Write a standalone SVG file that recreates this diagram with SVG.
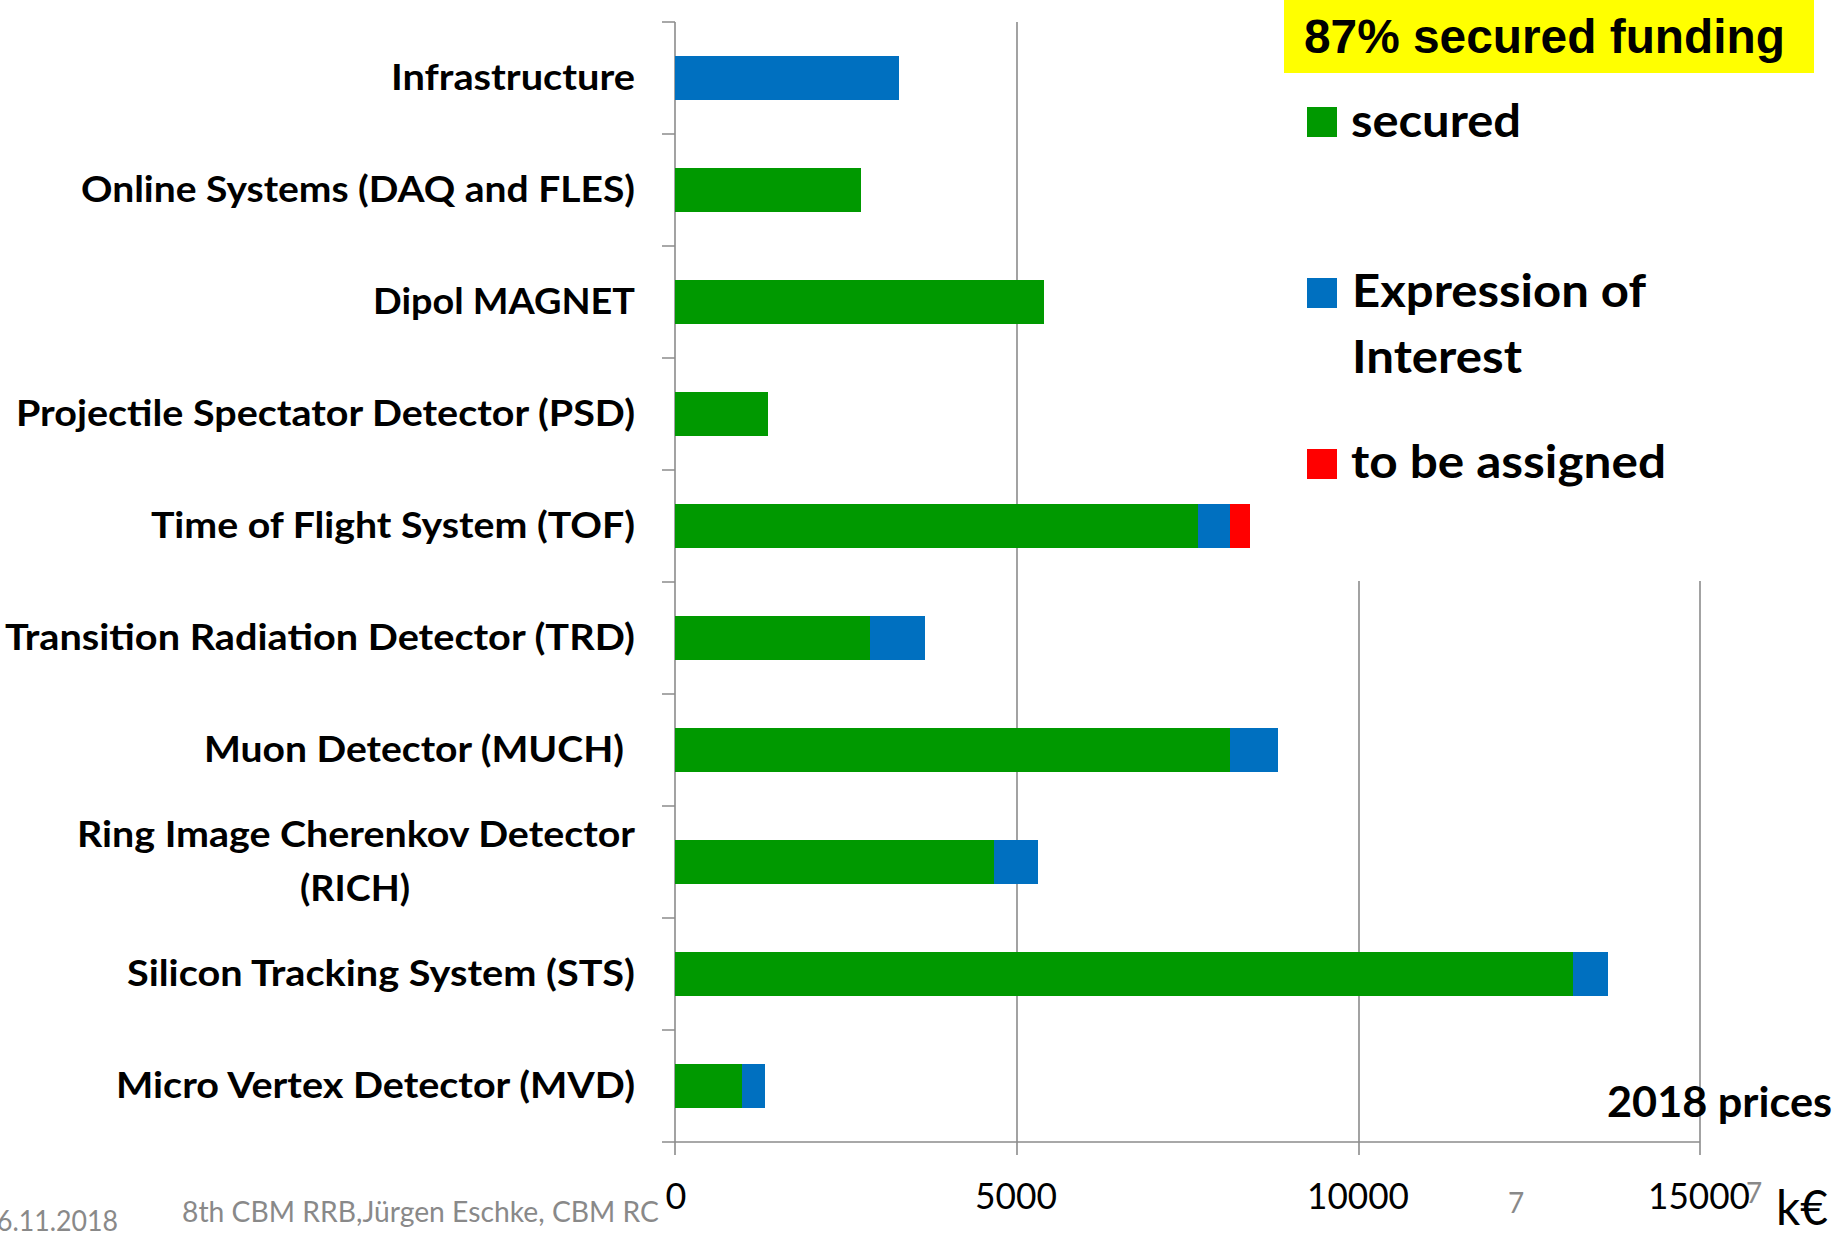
<svg xmlns="http://www.w3.org/2000/svg" width="1845" height="1239" viewBox="0 0 1845 1239">
<style>
.lbl{font-family:Lato,"Liberation Sans",sans-serif;font-weight:bold;font-size:36px;fill:#000}
.leg{font-family:Lato,"Liberation Sans",sans-serif;font-weight:bold;font-size:46px;fill:#000}
.num{font-family:Lato,"Liberation Sans",sans-serif;font-size:36px;fill:#000;text-anchor:middle}
.foot{font-family:Lato,"Liberation Sans",sans-serif;font-size:28px;fill:#898989}
.grid{stroke:#8c8c8c;stroke-width:1.6;fill:none}
.g{fill:#009900}.b{fill:#0070C0}.r{fill:#FF0000}
</style>
<rect width="1845" height="1239" fill="#fff"/>
<g id="axes">
<path class="grid" d="M1017 22V1155M1359 581V1155M1700 581V1155M675 22V1155M662 1142H1700"/>
<path class="grid" d="M662 22H675M662 134H675M662 246H675M662 358H675M662 470H675M662 582H675M662 694H675M662 806H675M662 918H675M662 1030H675"/>
</g>
<g id="cat-infrastructure">
<text class="lbl" x="635" y="90" text-anchor="end" textLength="244" lengthAdjust="spacingAndGlyphs">Infrastructure</text>
<rect class="b" x="675" y="56" width="224" height="44"/>
</g>
<g id="cat-online">
<text class="lbl" x="635" y="202" text-anchor="end" textLength="554" lengthAdjust="spacingAndGlyphs">Online Systems (DAQ and FLES)</text>
<rect class="g" x="675" y="168" width="186" height="44"/>
</g>
<g id="cat-magnet">
<text class="lbl" x="635" y="314" text-anchor="end" textLength="262" lengthAdjust="spacingAndGlyphs">Dipol MAGNET</text>
<rect class="g" x="675" y="280" width="369" height="44"/>
</g>
<g id="cat-psd">
<text class="lbl" x="635" y="426" text-anchor="end" textLength="619" lengthAdjust="spacingAndGlyphs">Projectile Spectator Detector (PSD)</text>
<rect class="g" x="675" y="392" width="93" height="44"/>
</g>
<g id="cat-tof">
<text class="lbl" x="635" y="538" text-anchor="end" textLength="484" lengthAdjust="spacingAndGlyphs">Time of Flight System (TOF)</text>
<rect class="g" x="675" y="504" width="523" height="44"/>
<rect class="b" x="1198" y="504" width="32" height="44"/>
<rect class="r" x="1230" y="504" width="20" height="44"/>
</g>
<g id="cat-trd">
<text class="lbl" x="635" y="650" text-anchor="end" textLength="630" lengthAdjust="spacingAndGlyphs">Transition Radiation Detector (TRD)</text>
<rect class="g" x="675" y="616" width="195" height="44"/>
<rect class="b" x="870" y="616" width="55" height="44"/>
</g>
<g id="cat-much">
<text class="lbl" x="624" y="762" text-anchor="end" textLength="420" lengthAdjust="spacingAndGlyphs">Muon Detector (MUCH)</text>
<rect class="g" x="675" y="728" width="555" height="44"/>
<rect class="b" x="1230" y="728" width="48" height="44"/>
</g>
<g id="cat-rich">
<text class="lbl" x="356" y="847" text-anchor="middle" textLength="558" lengthAdjust="spacingAndGlyphs">Ring Image Cherenkov Detector</text>
<text class="lbl" x="355" y="901" text-anchor="middle" textLength="110" lengthAdjust="spacingAndGlyphs">(RICH)</text>
<rect class="g" x="675" y="840" width="319" height="44"/>
<rect class="b" x="994" y="840" width="44" height="44"/>
</g>
<g id="cat-sts">
<text class="lbl" x="635" y="986" text-anchor="end" textLength="508" lengthAdjust="spacingAndGlyphs">Silicon Tracking System (STS)</text>
<rect class="g" x="675" y="952" width="898" height="44"/>
<rect class="b" x="1573" y="952" width="35" height="44"/>
</g>
<g id="cat-mvd">
<text class="lbl" x="635" y="1098" text-anchor="end" textLength="519" lengthAdjust="spacingAndGlyphs">Micro Vertex Detector (MVD)</text>
<rect class="g" x="675" y="1064" width="67" height="44"/>
<rect class="b" x="742" y="1064" width="23" height="44"/>
</g>
<g id="axis-labels">
<text class="num" x="676" y="1209">0</text>
<text class="num" x="1016" y="1209" textLength="82" lengthAdjust="spacingAndGlyphs">5000</text>
<text class="num" x="1358" y="1209" textLength="102" lengthAdjust="spacingAndGlyphs">10000</text>
<text class="num" x="1699" y="1209" textLength="102" lengthAdjust="spacingAndGlyphs">15000</text>
<text x="1776" y="1225" font-family="Lato,'Liberation Sans',sans-serif" font-size="48" textLength="52" lengthAdjust="spacingAndGlyphs">k€</text>
</g>
<g id="legend">
<rect x="1284" y="0" width="530" height="73" fill="#FFFF00"/>
<text x="1304" y="53" font-family="'Liberation Sans',Arial,sans-serif" font-weight="bold" font-size="48" textLength="481" lengthAdjust="spacingAndGlyphs">87% secured funding</text>
<rect class="g" x="1307" y="107" width="30" height="30"/>
<text class="leg" x="1351" y="137" textLength="170" lengthAdjust="spacingAndGlyphs">secured</text>
<rect class="b" x="1307" y="278" width="30" height="30"/>
<text class="leg" x="1352" y="307" textLength="294" lengthAdjust="spacingAndGlyphs">Expression of</text>
<text class="leg" x="1352" y="373" textLength="170" lengthAdjust="spacingAndGlyphs">Interest</text>
<rect class="r" x="1307" y="449" width="30" height="30"/>
<text class="leg" x="1351" y="478" textLength="315" lengthAdjust="spacingAndGlyphs">to be assigned</text>
</g>
<g id="note">
<text x="1607" y="1117" font-family="Lato,'Liberation Sans',sans-serif" font-weight="bold" font-size="42" textLength="225" lengthAdjust="spacingAndGlyphs">2018 prices</text>
</g>
<g id="footer">
<text class="foot" x="118" y="1231" text-anchor="end" textLength="121" lengthAdjust="spacingAndGlyphs">6.11.2018</text>
<text class="foot" x="182" y="1222" textLength="477" lengthAdjust="spacingAndGlyphs">8th CBM RRB,Jürgen Eschke, CBM RC</text>
<text class="foot" x="1508" y="1213">7</text>
<text class="foot" x="1746" y="1203">7</text>
</g>
</svg>
